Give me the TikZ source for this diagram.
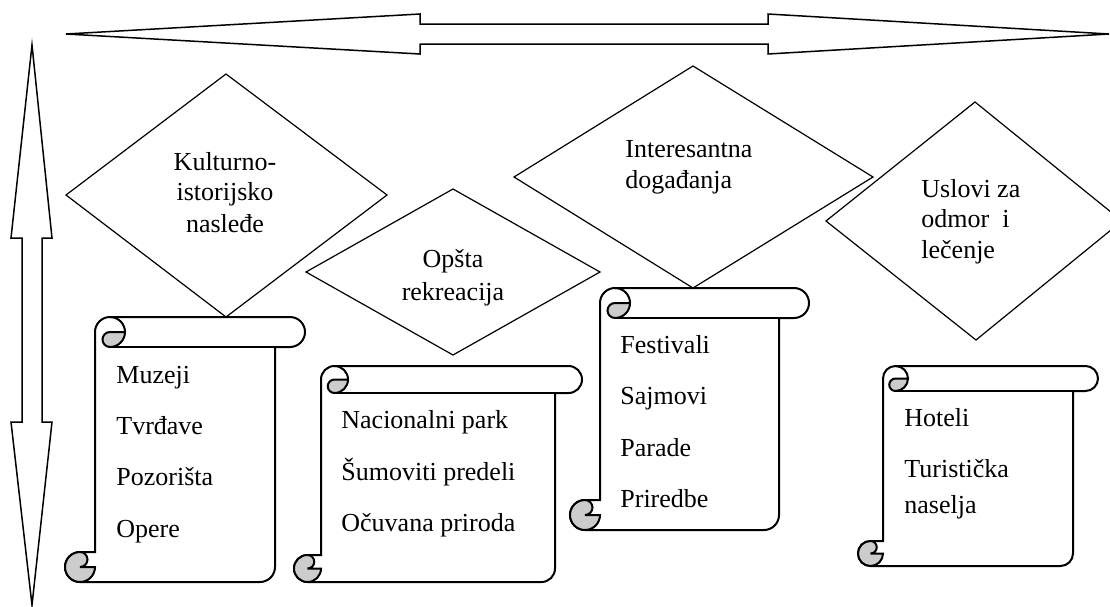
\documentclass[tikz,border=0pt]{standalone}
\usepackage{fontspec}
\setmainfont{Liberation Serif}
\usepackage{xcolor}
\definecolor{Black}{RGB}{0,0,0}
\definecolor{White}{RGB}{255,255,255}
\definecolor{Curl}{RGB}{204,204,204}
% scroll: left, top, right, bottom, bar height (px)
\newcommand{\drawscroll}[5]{%
	\pgfmathsetmacro{\ca}{#5}
	\pgfmathsetmacro{\cb}{#5/2}
	\pgfmathsetmacro{\rb}{#5/4}
	\pgfmathsetmacro{\rc}{#5/8}
	\filldraw[scrollline, fill=White] ({#1+\ca},{#4-\ca}) -- ({#1+\ca},{#2+\cb})
		arc[start angle=180, delta angle=90, radius=\rb pt] -- ({#3-\cb},#2)
		arc[start angle=270, delta angle=180, radius=\rb pt] -- ({#3-\ca},{#2+\ca})
		-- ({#3-\ca},{#4-\cb}) arc[start angle=0, delta angle=90, radius=\rb pt]
		-- ({#1+\cb},#4) arc[start angle=90, delta angle=180, radius=\rb pt] -- cycle;
	\filldraw[scrollline, fill=Curl] ({#1+2*\ca},{#2+\cb}) arc[start angle=0, delta angle=90, radius=\rb pt]
		arc[start angle=90, delta angle=180, radius=\rc pt] -- cycle;
	\filldraw[scrollline, fill=Curl] ({#1+\ca},{#4-\cb}) arc[start angle=0, delta angle=270, radius=\rb pt]
		arc[start angle=270, delta angle=180, radius=\rc pt] -- cycle;
	\draw[scrollline] ({#1+\ca+\cb},#2) arc[start angle=270, delta angle=90, radius=\rb pt];
	\draw[scrollline] ({#3-\ca},{#2+\ca}) -- ({#1+\ca+\cb},{#2+\ca});
}

\begin{document}
\begin{tikzpicture}[x=0.5pt, y=0.5pt, yscale=-1,
	arrowline/.style={draw=Black, fill=White, line width=0.75pt, line join=miter},
	diamondline/.style={draw=Black, fill=White, line width=0.6pt},
	scrollline/.style={draw=Black, line width=1pt},
	item/.style={inner sep=0pt, anchor=base west, font=\fontsize{13}{15}\selectfont},
	title/.style={inner sep=0pt, anchor=base, font=\fontsize{13}{15}\selectfont}]
	
	\useasboundingbox[fill=White] (0,0) rectangle (1110,606);
	
	% Arrows
	\filldraw[arrowline] (66,34) -- (420,14) -- (420,24) -- (768,24) -- (768,14) -- (1109,34)
		-- (768,54) -- (768,44) -- (420,44) -- (420,54) -- cycle;
	\filldraw[arrowline] (32,45) -- (52,238) -- (42,238) -- (42,422) -- (52,422) -- (32,605)
		-- (11,422) -- (22,422) -- (22,238) -- (11,238) -- cycle;
	
	% Diamonds
	\filldraw[diamondline] (226,74) -- (387,195) -- (226,317) -- (66,195) -- cycle;
	\filldraw[diamondline] (453,189) -- (600,272) -- (453,355) -- (306,272) -- cycle;
	\filldraw[diamondline] (693,66) -- (873,177) -- (693,288) -- (514,177) -- cycle;
	\filldraw[diamondline] (975,102) -- (1122,221) -- (976,340) -- (826,221) -- cycle;
	
	% Scrolls
	\drawscroll{65}{317}{305}{582}{30}
	\drawscroll{294}{366}{582}{582}{27}
	\drawscroll{570}{288}{809}{530}{30}
	\drawscroll{858}{366}{1098}{566}{25}
	
	% Diamond titles
	\node[title] (kult1) at (225,170) {Kulturno-};
	\node[title] (kult2) at (225,200) {istorijsko};
	\node[title] (kult3) at (225,232) {nasleđe};
	
	\node[title] (rekr1) at (453,267) {Opšta};
	\node[title] (rekr2) at (453,300) {rekreacija};
	
	\node[item] (dog1) at (625,157) {Interesantna};
	\node[item] (dog2) at (625,188) {događanja};
	
	\node[item] (odm1) at (921,197) {Uslovi za};
	\node[item] (odm2) at (921,227) {odmor\ \ i};
	\node[item] (odm3) at (921,258) {lečenje};
	
	% Scroll items
	\node[item] (muzeji) at (116,383) {Muzeji};
	\node[item] (tvrdjave) at (116,434) {Tvrđave};
	\node[item] (pozorista) at (116,485) {Pozorišta};
	\node[item] (opere) at (116,537) {Opere};
	
	\node[item] (park) at (341,428) {Nacionalni park};
	\node[item] (sume) at (341,480) {Šumoviti predeli};
	\node[item] (priroda) at (341,531) {Očuvana priroda};
	
	\node[item] (festivali) at (620,353) {Festivali};
	\node[item] (sajmovi) at (620,404) {Sajmovi};
	\node[item] (parade) at (620,456) {Parade};
	\node[item] (priredbe) at (620,507) {Priredbe};
	
	\node[item] (hoteli) at (904,426) {Hoteli};
	\node[item] (turist) at (904,477) {Turistička};
	\node[item] (naselja) at (904,513) {naselja};
	
\end{tikzpicture}
\end{document}
